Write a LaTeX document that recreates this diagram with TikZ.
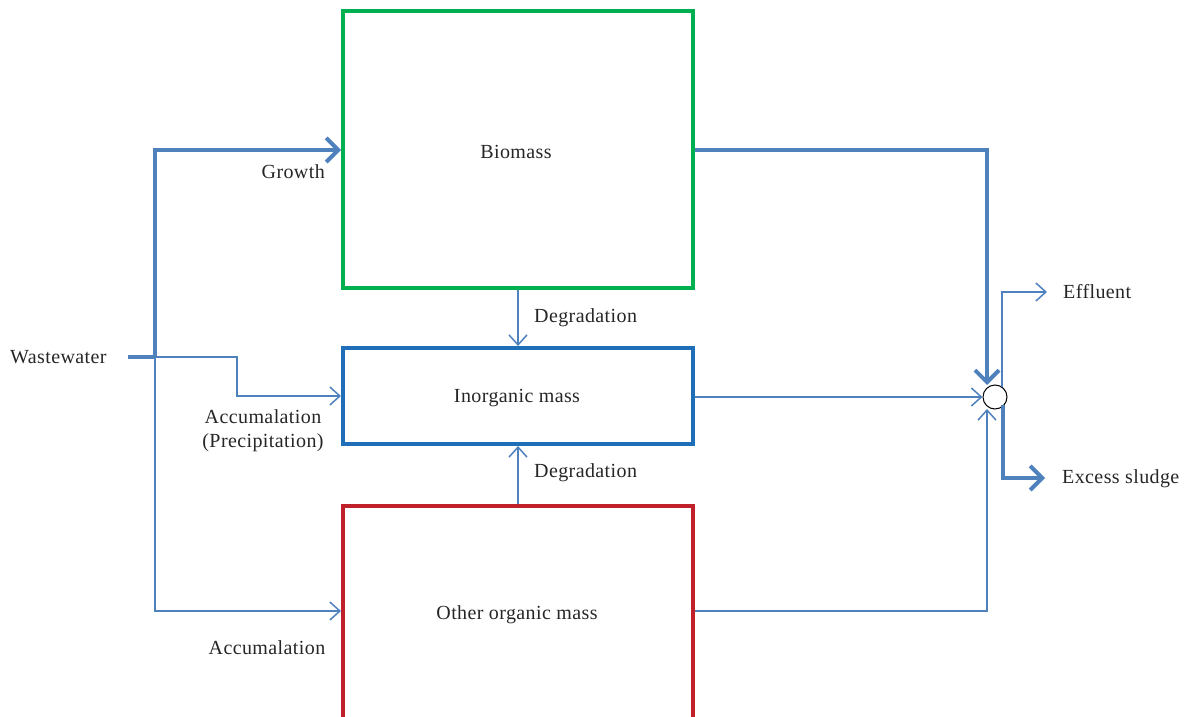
\documentclass[tikz,border=0pt]{standalone}
\usepackage{fontspec}
\setmainfont[LetterSpace=2]{Liberation Serif}
\usetikzlibrary{arrows.meta}
\definecolor{flowblue}{HTML}{4F81BD}
\definecolor{boxgreen}{HTML}{00B050}
\definecolor{boxblue}{HTML}{1F6EB8}
\definecolor{boxred}{HTML}{C0202A}
\begin{document}
\begin{tikzpicture} [x=1pt,y=-1pt,font=\fontsize{20}{24}\selectfont,
  mybox/.style={rectangle, draw, line width=4pt, minimum width=350pt, inner sep=0pt},
  mytxt/.style={inner sep=0pt, text=black!85},
  thickf/.style={draw=flowblue, line width=4pt, -{Straight Barb[length=12pt,width=24pt]}},
  thinf/.style={draw=flowblue, line width=1.5pt, -{Straight Barb[length=10pt,width=18pt]}}]
  \useasboundingbox (0,0) rectangle (1184,717);
  \clip (0,0) rectangle (1184,717);

  \node[mybox, draw=boxgreen, minimum height=277pt] (bio) at (518,149.5) {};
  \node[mytxt] at (516,152) {Biomass};
  \node[mybox, draw=boxblue, minimum height=96pt] (inorg) at (518,396) {};
  \node[mytxt] at (517,398) {Inorganic mass};
  \node[mybox, draw=boxred, minimum height=218pt] (other) at (518,615) {};
  \node[mytxt] at (517,615) {Other organic mass};

  \node[circle, draw, line width=1pt, minimum size=24pt, inner sep=0pt] (mix) at (995,397) {};

  \node[mytxt, anchor=west] (ww) at (10,357) {Wastewater};
  \coordinate (ws) at (128,357);
  \coordinate (split) at (155,357);
  \coordinate (gtop) at (155,150);
  \coordinate (pbend) at (237,357);
  \coordinate (pdown) at (237,396);
  \coordinate (abot) at (155,611);

  % inflows
  \draw[thickf, -] (ws) -- (split);
  \draw[thickf] (split) -- (gtop) -- (bio.west |- gtop);
  \draw[thinf] (split) -- (pbend) -- (pdown) -- (inorg.west |- pdown);
  \draw[thinf] (split) -- (abot) -- (other.west |- abot);

  \node[mytxt, anchor=east] at (325,172) {Growth};
  \node[mytxt, align=center] at (263,431) {Accumalation\\(Precipitation)};
  \node[mytxt] at (267,648) {Accumalation};

  % degradation
  \draw[thinf] (bio.south) -- (inorg.north);
  \draw[thinf] (other.north) -- (inorg.south);
  \node[mytxt, anchor=west] at (534,318) {Degradation};
  \node[mytxt, anchor=west] at (534,473) {Degradation};

  % outflows to the mixing point
  \coordinate (bright) at (987,150);
  \coordinate (oright) at (987,611);
  \draw[thickf] (bio.east |- bright) -- (bright) -- (987,385);
  \draw[thinf] (inorg.east |- mix) -- (mix.west);
  \draw[thinf] (other.east |- oright) -- (oright) -- (987,409);

  % effluent and excess sludge
  \coordinate (eup) at (1002,292);
  \coordinate (sdown) at (1003,478);
  \node[mytxt, anchor=west] (eff) at (1063,292) {Effluent};
  \node[mytxt, anchor=west] (sludge) at (1062,479) {Excess sludge};
  \draw[thinf] (1002,387) -- (eup) -- (1047,292);
  \draw[thickf] (1003,405) -- (sdown) -- (1045,478);

\end{tikzpicture}
\end{document}
